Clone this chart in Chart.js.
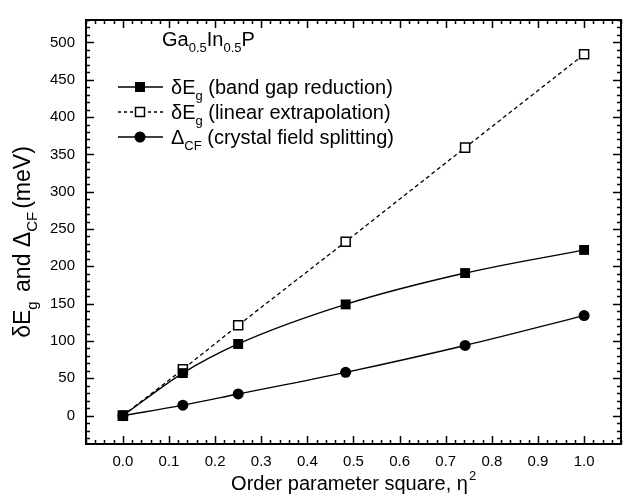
<!DOCTYPE html>
<html>
<head>
<meta charset="utf-8">
<script src="https://cdn.jsdelivr.net/npm/chart.js@4.4.1/dist/chart.umd.min.js"></script>
<style>
html,body{margin:0;padding:0;background:#fff;}
#wrap{width:631px;height:501px;}
</style>
</head>
<body>
<div id="wrap"><canvas id="c" width="631" height="501"></canvas></div>
<script>
// ---- data ----
const orderParamSquare = [0, 0.13, 0.25, 0.483, 0.742, 1.0];
const bandGapReduction = [0, 57, 96, 149, 191, 222];
const linearExtrapolation = [0, 62, 121, 233, 359, 484];
const crystalFieldSplitting = [0, 14, 29, 58, 94, 134];
const xTickValues = [0, 0.1, 0.2, 0.3, 0.4, 0.5, 0.6, 0.7, 0.8, 0.9, 1.0];
const xTickLabels = ['0.0','0.1','0.2','0.3','0.4','0.5','0.6','0.7','0.8','0.9','1.0'];
const yTickValues = [0, 50, 100, 150, 200, 250, 300, 350, 400, 450, 500];
const yTickLabels = ['0','50','100','150','200','250','300','350','400','450','500'];
const seriesNames = [
  ['δE', 'g', ' (band gap reduction)'],
  ['δE', 'g', ' (linear extrapolation)'],
  ['Δ', 'CF', ' (crystal field splitting)']
];
const materialLabel = [['Ga', false], ['0.5', true], ['In', false], ['0.5', true], ['P', false]];
const xTitle = 'Order parameter square, η';
const yTitleParts = [['δE', false], ['g', true], [' and Δ', false], ['CF', true], ['(meV)', false]];

const FONT = '"Liberation Sans", Arial, sans-serif';

function pts(ys){ return orderParamSquare.map((x,i)=>({x:x, y:ys[i]})); }

function drawRich(ctx, parts, x, y, size, gap){
  gap = gap || 0;
  for (const [t, sub] of parts){
    if (sub){
      ctx.font = Math.round(size*0.64) + 'px ' + FONT;
      ctx.fillText(t, x, y + size*0.3);
      x += ctx.measureText(t).width + gap;
    } else {
      ctx.font = size + 'px ' + FONT;
      ctx.fillText(t, x, y);
      x += ctx.measureText(t).width;
    }
  }
  return x;
}
function richWidth(ctx, parts, size, gap){
  gap = gap || 0;
  let w = 0;
  for (const [t, sub] of parts){
    ctx.font = (sub ? Math.round(size*0.64) : size) + 'px ' + FONT;
    w += ctx.measureText(t).width + (sub ? gap : 0);
  }
  return w;
}

const decor = {
  id: 'decor',
  afterDatasetsDraw(chart){
    const ctx = chart.ctx;
    const a = chart.chartArea;
    const xs = chart.scales.x, ys = chart.scales.y;
    ctx.save();
    ctx.strokeStyle = '#000';
    ctx.fillStyle = '#000';
    ctx.lineWidth = 2;
    ctx.strokeRect(a.left, a.top, a.right - a.left, a.bottom - a.top);
    ctx.lineWidth = 1.5;
    ctx.beginPath();
    for (let i = -4; i <= 54; i++){
      const v = i * 0.02;
      if (v < xs.min - 1e-9 || v > xs.max + 1e-9) continue;
      const px = Math.round(xs.getPixelForValue(v)) + 0.5;
      const len = (i % 5 === 0) ? 8 : 4;
      ctx.moveTo(px, a.bottom); ctx.lineTo(px, a.bottom - len);
      ctx.moveTo(px, a.top); ctx.lineTo(px, a.top + len);
    }
    for (let v = -30; v <= 530; v += 10){
      if (v < ys.min || v > ys.max) continue;
      const py = Math.round(ys.getPixelForValue(v)) + 0.5;
      const len = (v % 50 === 0) ? 8 : 4;
      ctx.moveTo(a.left, py); ctx.lineTo(a.left + len, py);
      ctx.moveTo(a.right, py); ctx.lineTo(a.right - len, py);
    }
    ctx.stroke();

    ctx.textBaseline = 'alphabetic';
    ctx.textAlign = 'left';
    // x title
    const tsize = 20;
    ctx.font = tsize + 'px ' + FONT;
    const xw = ctx.measureText(xTitle).width;
    const xcx = (a.left + a.right) / 2;
    const xx0 = xcx - xw/2 - 4;
    ctx.fillText(xTitle, xx0, 490);
    ctx.font = '13px ' + FONT;
    ctx.fillText('2', xx0 + xw + 1, 480);

    // y title
    ctx.save();
    const ysz = 23;
    const yw = richWidth(ctx, yTitleParts, ysz, 3);
    ctx.translate(30, 242);
    ctx.rotate(-Math.PI/2);
    drawRich(ctx, yTitleParts, -yw/2, 0, ysz, 3);
    ctx.restore();

    // material label
    const lsize = 20;
    drawRich(ctx, materialLabel, 162, 46, lsize);

    // legend
    const rows = [87, 112, 137];
    const lineX0 = 118, lineX1 = 163, mX = 140;
    rows.forEach((ry, i) => {
      ctx.lineWidth = 1.4;
      ctx.setLineDash(i === 1 ? [3, 3] : []);
      ctx.beginPath();
      ctx.moveTo(lineX0, ry); ctx.lineTo(lineX1, ry);
      ctx.stroke();
      ctx.setLineDash([]);
      if (i === 0){
        ctx.fillRect(mX - 5, ry - 5, 10, 10);
      } else if (i === 1){
        ctx.fillStyle = '#fff';
        ctx.fillRect(mX - 4.5, ry - 4.5, 9, 9);
        ctx.fillStyle = '#000';
        ctx.lineWidth = 1.5;
        ctx.strokeRect(mX - 4.5, ry - 4.5, 9, 9);
      } else {
        ctx.beginPath(); ctx.arc(mX, ry, 5.5, 0, Math.PI*2); ctx.fill();
      }
      const p = seriesNames[i];
      drawRich(ctx, [[p[0],false],[p[1],true],[p[2],false]], 171, ry + 7, lsize);
    });
    ctx.restore();
  }
};

new Chart(document.getElementById('c'), {
  type: 'line',
  data: {
    datasets: [
      {
        label: seriesNames[0].join(''),
        data: pts(bandGapReduction),
        borderColor: '#000', backgroundColor: '#000',
        borderWidth: 1.4,
        pointStyle: 'rect', pointRadius: 7, pointBorderWidth: 0,
        cubicInterpolationMode: 'monotone'
      },
      {
        label: seriesNames[1].join(''),
        data: pts(linearExtrapolation),
        borderColor: '#000', backgroundColor: '#fff',
        borderWidth: 1.3, borderDash: [4, 3],
        pointStyle: 'rect', pointRadius: 6.4, pointBorderWidth: 1.5,
        pointBorderColor: '#000', pointBackgroundColor: '#fff',
        tension: 0
      },
      {
        label: seriesNames[2].join(''),
        data: pts(crystalFieldSplitting),
        borderColor: '#000', backgroundColor: '#000',
        borderWidth: 1.4,
        pointStyle: 'circle', pointRadius: 5.5, pointBorderWidth: 0,
        cubicInterpolationMode: 'monotone'
      }
    ]
  },
  options: {
    responsive: false,
    animation: false,
    devicePixelRatio: 1,
    layout: { padding: { left: 26, right: 10, top: 9, bottom: 17 } },
    plugins: { legend: { display: false }, tooltip: { enabled: false } },
    scales: {
      x: {
        type: 'linear', min: -0.08, max: 1.08,
        afterBuildTicks: s => { s.ticks = xTickValues.map(v => ({ value: v })); },
        afterFit: s => { s.height = 40; },
        ticks: {
          autoSkip: false, maxRotation: 0, padding: 9,
          color: '#000', font: { family: FONT, size: 15 },
          callback: (v) => { const i = xTickValues.findIndex(t => Math.abs(t - v) < 1e-9); return i >= 0 ? xTickLabels[i] : ''; }
        },
        grid: { display: false, drawTicks: false },
        border: { display: false }
      },
      y: {
        type: 'linear', min: -38, max: 530,
        afterBuildTicks: s => { s.ticks = yTickValues.map(v => ({ value: v })); },
        afterFit: s => { s.width = 60; },
        ticks: {
          autoSkip: false, padding: 11,
          color: '#000', font: { family: FONT, size: 15 },
          callback: (v) => { const i = yTickValues.indexOf(v); return i >= 0 ? yTickLabels[i] : ''; }
        },
        grid: { display: false, drawTicks: false },
        border: { display: false }
      }
    }
  },
  plugins: [decor]
});
</script>
</body>
</html>
